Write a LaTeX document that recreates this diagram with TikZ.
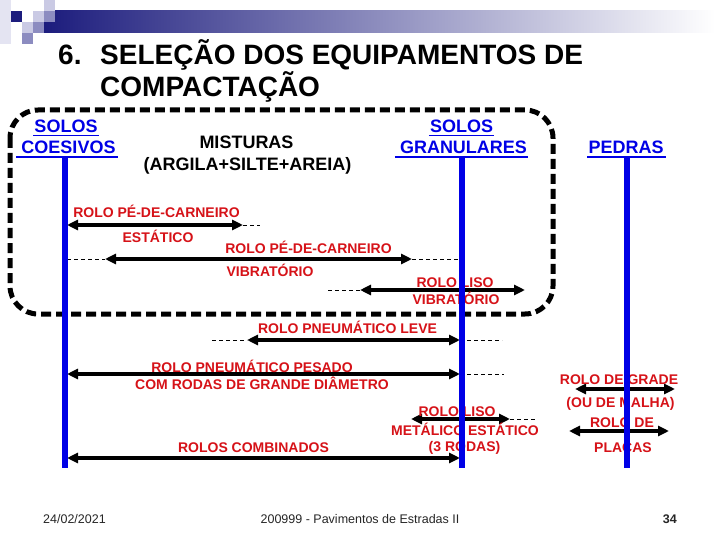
\documentclass[tikz,border=0pt]{standalone}
\usepackage{fontspec}
\setmainfont{Liberation Sans}
\usetikzlibrary{arrows.meta}
\definecolor{azul}{RGB}{0,0,230}
\definecolor{vermelho}{RGB}{214,18,24}
\definecolor{marinho}{RGB}{28,28,125}
\definecolor{lilas}{RGB}{140,140,192}
\definecolor{lilasclaro}{RGB}{202,202,228}
\definecolor{lilaspalido}{RGB}{228,228,242}

\begin{document}
\begin{tikzpicture}[x=1pt,y=-1pt,
        >={Triangle[length=11pt,width=10pt]},
        fita/.style={azul,line width=6pt},
        rolo/.style={<->,line width=3.5pt},
        guia/.style={line width=0.7pt,dash pattern=on 4pt off 3pt},
        titulo/.style={font=\fontsize{28}{32}\selectfont\bfseries,inner sep=0pt,anchor=base west},
        rot/.style={vermelho,font=\fontsize{14}{16}\selectfont\bfseries,inner sep=0pt,anchor=base},
        cab/.style={azul,font=\fontsize{18}{20}\selectfont\bfseries,inner sep=0pt,anchor=base},
        sub/.style={azul,line width=1.6pt},
        rodape/.style={text=black!85,font=\fontsize{12.5}{14}\selectfont,inner sep=0pt,anchor=base}]
        \fill[white] (0,0) rectangle (720,540);
        \useasboundingbox (0,0) rectangle (720,540);

        % faixa do cabecalho
        \fill[lilaspalido] (0,0) rectangle (11,44);
        \shade[left color=marinho,right color=white] (44,11) rectangle (715,33);
        \fill[marinho] (11,11) rectangle (22,22);
        \fill[lilasclaro] (33,11) rectangle (44,22);
        \fill[lilasclaro] (44,0) rectangle (55,11);
        \fill[lilas] (44,11) rectangle (55,22);
        \fill[lilasclaro] (22,22) rectangle (33,33);
        \fill[lilas] (33,22) rectangle (44,33);
        \fill[lilas] (22,33) rectangle (33,44);

        \node[titulo] (num) at (58,65) {6.};
        \node[titulo] (tit1) at (100,65) {SELEÇÃO DOS EQUIPAMENTOS DE};
        \node[titulo] (tit2) at (100,97) {COMPACTAÇÃO};

        \draw[line width=5pt,dash pattern=on 10pt off 5pt,rounded corners=28pt] (10,110) rectangle (553,314);

        \node[cab] (solosA) at (66,133) {SOLOS};
        \node[cab] (coesivos) at (68.5,154) {COESIVOS};
        \node[cab,black] (misturas) at (246.5,149) {MISTURAS};
        \node[cab,black] (argila) at (247.5,171) {(ARGILA+SILTE+AREIA)};
        \node[cab] (solosB) at (461.5,133) {SOLOS};
        \node[cab] (granulares) at (463.5,154) {GRANULARES};
        \node[cab] (pedras) at (626,154) {PEDRAS};
        \draw[sub] ([shift={(-1,2.5)}]solosA.base west) -- ([shift={(1,2.5)}]solosA.base east);
        \draw[sub] ([shift={(-5,3)}]coesivos.base west) -- ([shift={(2,3)}]coesivos.base east);
        \draw[sub] ([shift={(-1,2.5)}]solosB.base west) -- ([shift={(1,2.5)}]solosB.base east);
        \draw[sub] ([shift={(-5,3)}]granulares.base west) -- ([shift={(1,3)}]granulares.base east);
        \draw[sub] ([shift={(-1,3)}]pedras.base west) -- ([shift={(2,3)}]pedras.base east);

        \coordinate (topoA) at (65,157);
        \coordinate (peA) at (65,468);
        \coordinate (topoB) at (462,157);
        \coordinate (peB) at (462,468);
        \coordinate (topoC) at (627,157);
        \coordinate (peC) at (627,468);

        % rolos e faixas de aplicacao
        \coordinate (pcEstE) at (67,225);
        \coordinate (pcEstD) at (243,225);
        \coordinate (pcEstG) at (260,225);
        \coordinate (pcVibG) at (67,259);
        \coordinate (pcVibE) at (105,259);
        \coordinate (pcVibD) at (412,259);
        \coordinate (pcVibH) at (460,259);
        \coordinate (lisoVibG) at (328,290);
        \coordinate (lisoVibE) at (360,290);
        \coordinate (lisoVibD) at (525,290);
        \coordinate (pneuLevG) at (212,340);
        \coordinate (pneuLevE) at (247,340);
        \coordinate (pneuLevD) at (460,340);
        \coordinate (pneuLevH) at (502,340);
        \coordinate (pneuPesE) at (67,374);
        \coordinate (pneuPesD) at (460,374);
        \coordinate (pneuPesH) at (504,374);
        \coordinate (lisoEstE) at (411,419);
        \coordinate (lisoEstD) at (510,419);
        \coordinate (lisoEstH) at (537,419);
        \coordinate (combE) at (67,458);
        \coordinate (combD) at (460,458);
        \coordinate (gradeE) at (575,389);
        \coordinate (gradeD) at (675,389);
        \coordinate (placaE) at (569,431);
        \coordinate (placaD) at (669,431);

        \draw[rolo] (pcEstE)--(pcEstD);
        \draw[guia] (pcEstD)--(pcEstG);
        \draw[rolo] (pcVibE)--(pcVibD);
        \draw[guia] (pcVibG)--(pcVibE);
        \draw[guia] (pcVibD)--(pcVibH);
        \draw[rolo] (lisoVibE)--(lisoVibD);
        \draw[guia] (lisoVibG)--(lisoVibE);
        \draw[rolo] (pneuLevE)--(pneuLevD);
        \draw[guia] (pneuLevG)--(pneuLevE);
        \draw[guia] (pneuLevD)--(pneuLevH);
        \draw[rolo] (pneuPesE)--(pneuPesD);
        \draw[guia] (pneuPesD)--(pneuPesH);
        \draw[rolo] (lisoEstE)--(lisoEstD);
        \draw[guia] (lisoEstD)--(lisoEstH);
        \draw[rolo] (combE)--(combD);
        \draw[rolo] (gradeE)--(gradeD);
        \draw[rolo] (placaE)--(placaD);

        \node[rot] (pcEst1) at (156.5,218) {ROLO PÉ-DE-CARNEIRO};
        \node[rot] (pcEst2) at (158,242) {ESTÁTICO};
        \node[rot] (pcVib1) at (308.5,253) {ROLO PÉ-DE-CARNEIRO};
        \node[rot] (pcVib2) at (270,276) {VIBRATÓRIO};
        \node[rot] (lisoVib1) at (455,287) {ROLO LISO};
        \node[rot] (lisoVib2) at (456,304) {VIBRATÓRIO};
        \node[rot] (pneuLev) at (347.5,333) {ROLO PNEUMÁTICO LEVE};
        \node[rot] (pneuPes1) at (252,372) {ROLO PNEUMÁTICO PESADO};
        \node[rot] (pneuPes2) at (262,389) {COM RODAS DE GRANDE DIÂMETRO};
        \node[rot] (lisoEst1) at (457,416) {ROLO LISO};
        \node[rot] (lisoEst2) at (465,435) {METÁLICO ESTÁTICO};
        \node[rot] (lisoEst3) at (464.5,451) {(3 RODAS)};
        \node[rot] (comb) at (253.5,452) {ROLOS COMBINADOS};
        \node[rot] (grade1) at (619,384) {ROLO DE GRADE};
        \node[rot] (grade2) at (620.5,407) {(OU DE MALHA)};
        \node[rot] (placa1) at (622,427) {ROLO DE};
        \node[rot] (placa2) at (623,452) {PLACAS};

        \draw[fita] (topoA)--(peA);
        \draw[fita] (topoB)--(peB);
        \draw[fita] (topoC)--(peC);

        \node[rodape,anchor=base west] (data) at (43,523) {24/02/2021};
        \node[rodape] (disciplina) at (360,523) {200999 - Pavimentos de Estradas II};
        \node[rodape,anchor=base east,font=\fontsize{12.5}{14}\selectfont\bfseries] (pagina) at (677,523) {34};
    \end{tikzpicture}
\end{document}
